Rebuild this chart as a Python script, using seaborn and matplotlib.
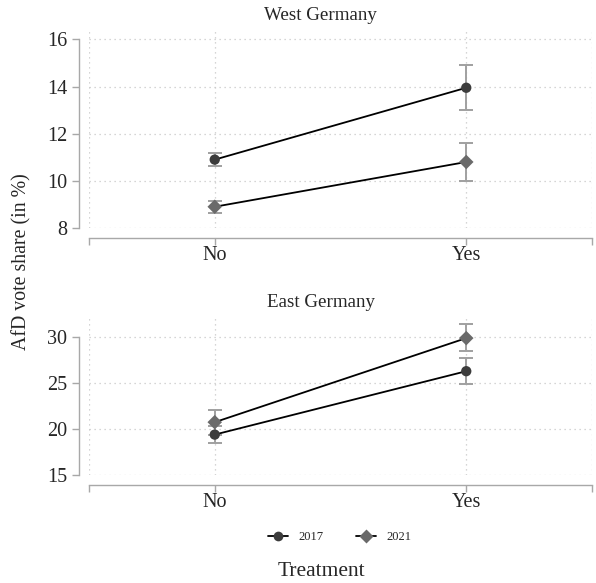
import numpy as np
import pandas as pd
import seaborn as sns
import matplotlib.pyplot as plt
from matplotlib.lines import Line2D

# values
treatment = ["No", "Yes"]
years = ["2017", "2021"]

west_2017 = [10.9, 13.95]
west_2017_lo = [10.62, 13.0]
west_2017_hi = [11.2, 14.92]
west_2021 = [8.9, 10.8]
west_2021_lo = [8.65, 10.0]
west_2021_hi = [9.15, 11.6]

east_2017 = [19.4, 26.3]
east_2017_lo = [18.5, 24.9]
east_2017_hi = [20.3, 27.7]
east_2021 = [20.75, 29.9]
east_2021_lo = [19.4, 28.5]
east_2021_hi = [22.1, 31.4]

sns.set_theme(style="white")
plt.rcParams['font.family'] = ['Liberation Serif', 'DejaVu Serif']

marker_map = {"2017": "o", "2021": "D"}
colour_map = {"2017": "#3c3c3c", "2021": "#6a6a6a"}


def make_df(v17, lo17, hi17, v21, lo21, hi21):
    rows = []
    for i, t in enumerate(treatment):
        rows.append(dict(x=i, treat=t, year="2017", v=v17[i], lo=lo17[i], hi=hi17[i]))
        rows.append(dict(x=i, treat=t, year="2021", v=v21[i], lo=lo21[i], hi=hi21[i]))
    return pd.DataFrame(rows)


west = make_df(west_2017, west_2017_lo, west_2017_hi, west_2021, west_2021_lo, west_2021_hi)
east = make_df(east_2017, east_2017_lo, east_2017_hi, east_2021, east_2021_lo, east_2021_hi)

fig = plt.figure(figsize=(5.96, 5.83), dpi=100)
ax1 = fig.add_axes([0.1493, 0.609, 0.844, 0.3395])
ax2 = fig.add_axes([0.1493, 0.1852, 0.844, 0.2711])

panels = [
    (ax1, west, "West Germany", (8, 16.4), [8, 10, 12, 14, 16]),
    (ax2, east, "East Germany", (15, 32.2), [15, 20, 25, 30]),
]

for ax, df, title, ylim, yticks in panels:
    ax.grid(True, linestyle=(0, (1, 3)), color="#c8c8c8", linewidth=0.9)
    ax.set_axisbelow(True)
    for yr in years:
        d = df[df.year == yr]
        ax.errorbar(d.x, d.v, yerr=[d.v - d.lo, d.hi - d.v], fmt="none",
                    ecolor="#a0a0a0", elinewidth=1.4, capsize=5, capthick=1.4, zorder=2)
    sns.lineplot(data=df, x="x", y="v", units="year", estimator=None,
                 color="black", linewidth=1.3, ax=ax, zorder=3)
    sns.scatterplot(data=df, x="x", y="v", hue="year", style="year",
                    markers=marker_map, palette=colour_map, s=55,
                    edgecolor="none", legend=False, ax=ax, zorder=4)
    ax.set_xlim(-0.5, 1.5)
    ax.set_ylim(*ylim)
    ax.set_xticks([-0.5, 0, 1, 1.5])
    ax.set_xticklabels(["", "No", "Yes", ""])
    ax.set_yticks(yticks)
    ax.set_xlabel("")
    ax.set_ylabel("")
    ax.set_title(title, fontsize=13.7, x=0.461, pad=7)
    ax.tick_params(axis="both", which="both", length=5, width=1, color="#a8a8a8",
                   bottom=True, left=True, labelsize=14.5)
    ax.tick_params(axis="x", pad=0.5)
    sns.despine(ax=ax, offset=7.2)
    ax.spines["left"].set_bounds(yticks[0], yticks[-1])
    for s in ["left", "bottom"]:
        ax.spines[s].set_color("#a8a8a8")
        ax.spines[s].set_linewidth(1)

fig.text(0.037, 0.552, "AfD vote share (in %)", rotation=90, ha="center", va="center", fontsize=14.3)
fig.text(0.539, 0.019, "Treatment", ha="center", va="center", fontsize=15.5)

handles = [
    Line2D([], [], color="black", linewidth=1.3, marker=marker_map[y],
           markerfacecolor=colour_map[y], markeredgecolor="none", markersize=7)
    for y in years
]
fig.legend(handles, years, loc="center", bbox_to_anchor=(0.57, 0.079), ncol=2,
           frameon=False, fontsize=9, handlelength=1.6, columnspacing=2.6)

plt.savefig("out.png", dpi=100)
